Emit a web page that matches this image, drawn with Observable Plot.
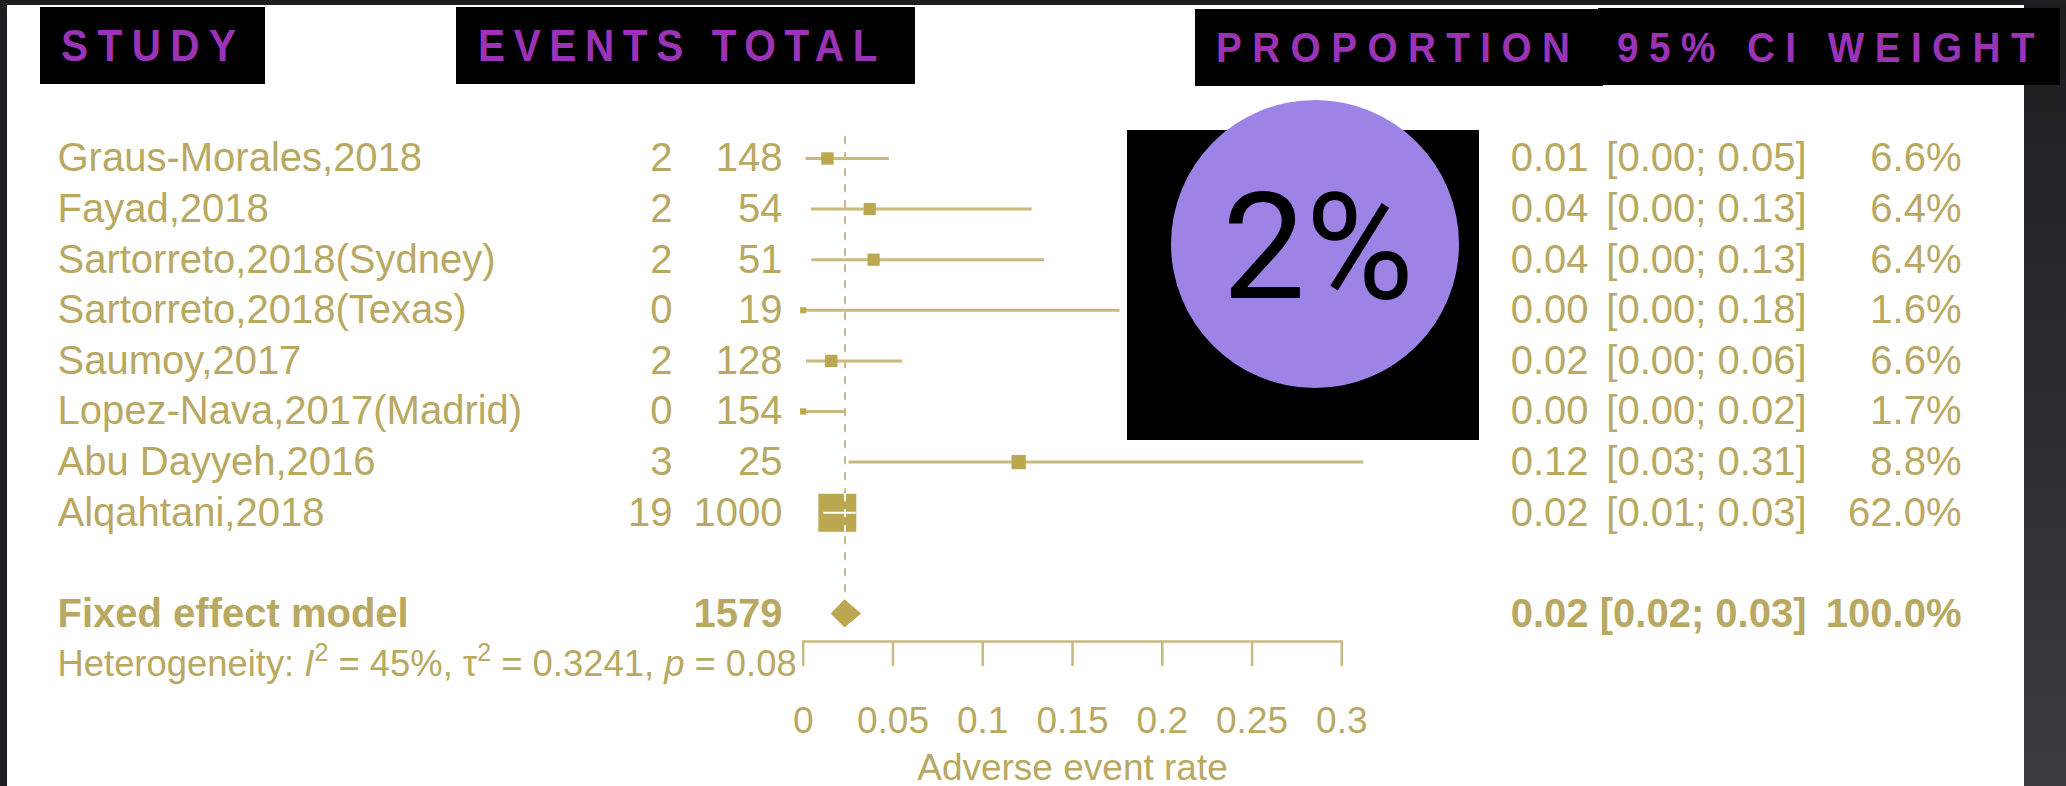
<!DOCTYPE html>
<html>
<head>
<meta charset="utf-8">
<script src="https://cdn.jsdelivr.net/npm/d3@7"></script>
<script src="https://cdn.jsdelivr.net/npm/@observablehq/plot@0.6"></script>
<style>
  html, body { margin: 0; padding: 0; }
  body { width: 2066px; height: 786px; overflow: hidden; background: #1e1d22; position: relative;
         font-family: "Liberation Sans", Arial, Helvetica, sans-serif; }
  #panel { position: absolute; left: 7px; top: 5px; width: 2017px; height: 781px; background: #ffffff; }
  #edge { position: absolute; left: 2024px; top: 5px; width: 42px; height: 781px;
          background: linear-gradient(#1d1c21, #3c3b41); }
  #chart { position: absolute; left: 0; top: 0; }
  #overlay { position: absolute; left: 0; top: 0; }
</style>
</head>
<body>
<div id="panel"></div>
<div id="edge"></div>
<div id="chart"></div>
<svg id="overlay" width="2066" height="786"></svg>
<script>
// ---- Study-level data (proportion of adverse events) ----
const studies = [
  "Graus-Morales,2018",
  "Fayad,2018",
  "Sartorreto,2018(Sydney)",
  "Sartorreto,2018(Texas)",
  "Saumoy,2017",
  "Lopez-Nava,2017(Madrid)",
  "Abu Dayyeh,2016",
  "Alqahtani,2018"
];
const events  = [2, 2, 2, 0, 2, 0, 3, 19];
const totals  = [148, 54, 51, 19, 128, 154, 25, 1000];
const ciLower = [0.0016, 0.0045, 0.0048, 0.0, 0.0019, 0.0, 0.0255, 0.0115];
const ciUpper = [0.0480, 0.1275, 0.1346, 0.1765, 0.0553, 0.0237, 0.3122, 0.0295];
const weights = [6.6, 6.4, 6.4, 1.6, 6.6, 1.7, 8.8, 62.0];

// ---- Pooled (fixed effect) result ----
const pooledLabel = "Fixed effect model";
const pooledTotal = 1579;
const pooledEstimate = 0.0233;
const pooledLower = 0.0156;
const pooledUpper = 0.0325;
const pooledWeight = 100.0;

// ---- Heterogeneity statistics ----
const hetI2 = 45;
const hetTau2 = 0.3241;
const hetP = 0.08;

// ---- Axis ----
const xTicks = [0, 0.05, 0.1, 0.15, 0.2, 0.25, 0.3];
const xLabel = "Adverse event rate";

// ---- Column headers ----
const headerLabels = ["STUDY", "EVENTS TOTAL", "PROPORTION", "95% CI WEIGHT"];

// ---- Layout ----
const W = 2066, H = 786;
const X0 = 802.7, X1 = 1341.3;           // pixel extent of the rate axis
const colX = {study: 57, events: 672, total: 782, prop: 1588, ci: 1806, weight: 1961};
const rowTop = 158, rowStep = 50.6;
const rMax = 21.4;
const fontRow = 40;
const gold = "#b8a862";
const squareGold = "#bba74f";
const lineGold = "#c8b97f";
const f2 = d3.format(".2f");
const fw = d => d3.format(".1f")(d) + "%";

const rows = studies.map((study, i) => ({
  i, study,
  events: events[i],
  total: totals[i],
  est: events[i] / totals[i],
  lower: ciLower[i],
  upper: ciUpper[i],
  weight: weights[i]
}));

// square geometry (pixels) used to decide which segments show through a square
const pxPerUnit = (X1 - X0) / 0.3;
const sidePx = d => rMax * Math.sqrt(d.weight / d3.max(weights)) * Math.sqrt(Math.PI);
const ciInside = rows.filter(d => (d.upper - d.lower) * pxPerUnit < sidePx(d));
const coversPooled = rows.filter(d => Math.abs(d.est - pooledEstimate) * pxPerUnit < sidePx(d) / 2);

const pooledRow = 9;
const pooled = [{
  y: pooledRow, label: pooledLabel, total: pooledTotal,
  est: pooledEstimate, lower: pooledLower, upper: pooledUpper, weight: pooledWeight
}];
const diamondHalf = 0.28;
const diamond = [
  {x: pooledLower, y1: pooledRow, y2: pooledRow},
  {x: pooledEstimate, y1: pooledRow - diamondHalf, y2: pooledRow + diamondHalf},
  {x: pooledUpper, y1: pooledRow, y2: pooledRow}
];

const textCol = (data, opts) => Plot.text(data, {
  frameAnchor: "left", fill: gold, fontSize: fontRow, ...opts
});

const chart = Plot.plot({
  width: W, height: H,
  marginLeft: X0, marginRight: W - X1, marginTop: 100, marginBottom: 145,
  x: {domain: [0, 0.3]},
  y: {domain: [0, 10], range: [rowTop, rowTop + 10 * rowStep], axis: null},
  r: {type: "sqrt", domain: [0, d3.max(weights)], range: [0, rMax]},
  style: {background: "transparent", fontFamily: "'Liberation Sans', Arial, Helvetica, sans-serif", overflow: "visible"},
  marks: [
    // pooled-estimate reference line
    Plot.ruleX([pooledEstimate], {x: d => d, y1: -0.43, y2: pooledRow - diamondHalf,
      stroke: lineGold, strokeWidth: 2, strokeDasharray: "8,8"}),
    // confidence intervals
    Plot.ruleY(rows, {y: "i", x1: "lower", x2: "upper", stroke: lineGold, strokeWidth: 3}),
    // study estimates, area proportional to weight
    Plot.dot(rows, {x: "est", y: "i", r: "weight", symbol: "square", fill: squareGold, stroke: null}),
    // segments visible through large squares
    Plot.ruleY(ciInside, {y: "i", x1: "lower", x2: "upper", stroke: "white", strokeWidth: 2}),
    Plot.ruleX(coversPooled, {x: () => pooledEstimate,
      y1: d => d.i - sidePx(d) / 2 / rowStep, y2: d => d.i + sidePx(d) / 2 / rowStep,
      stroke: "white", strokeWidth: 2, strokeDasharray: "8,8"}),
    // pooled diamond
    Plot.areaY(diamond, {x: "x", y1: "y1", y2: "y2", fill: squareGold, curve: "linear"}),
    // axis
    Plot.frame({anchor: "bottom", stroke: lineGold, strokeWidth: 2.5}),
    Plot.axisX({ticks: xTicks, tickFormat: d => String(d), tickSize: 25, tickPadding: 40,
      fontSize: 37, stroke: lineGold, strokeWidth: 2.5, fill: gold, color: gold,
      label: xLabel, labelAnchor: "center", labelOffset: 138, labelArrow: "none"}),
    // table columns
    textCol(rows, {y: "i", text: "study", textAnchor: "start", dx: colX.study - X0}),
    textCol(rows, {y: "i", text: d => String(d.events), textAnchor: "end", dx: colX.events - X0}),
    textCol(rows, {y: "i", text: d => String(d.total), textAnchor: "end", dx: colX.total - X0}),
    textCol(rows, {y: "i", text: d => f2(d.est), textAnchor: "end", dx: colX.prop - X0}),
    textCol(rows, {y: "i", text: d => `[${f2(d.lower)}; ${f2(d.upper)}]`, textAnchor: "end", dx: colX.ci - X0}),
    textCol(rows, {y: "i", text: d => fw(d.weight), textAnchor: "end", dx: colX.weight - X0}),
    // pooled row (bold)
    textCol(pooled, {y: "y", text: "label", textAnchor: "start", fontWeight: "bold", dx: colX.study - X0}),
    textCol(pooled, {y: "y", text: d => String(d.total), textAnchor: "end", fontWeight: "bold", dx: colX.total - X0}),
    textCol(pooled, {y: "y", text: d => f2(d.est), textAnchor: "end", fontWeight: "bold", dx: colX.prop - X0}),
    textCol(pooled, {y: "y", text: d => `[${f2(d.lower)}; ${f2(d.upper)}]`, textAnchor: "end", fontWeight: "bold", dx: colX.ci - X0}),
    textCol(pooled, {y: "y", text: d => fw(d.weight), textAnchor: "end", fontWeight: "bold", dx: colX.weight - X0}),
    // heterogeneity line
    textCol([{y: pooledRow + 1}], {y: "y", text: () => `Heterogeneity: I2 = ${hetI2}%, τ2 = ${hetTau2}, p = ${hetP}`,
      textAnchor: "start", fontSize: 36.4, dx: colX.study - X0})
  ]
});
document.getElementById("chart").appendChild(chart);

// rich formatting for the heterogeneity statement (italic symbols, superscripts)
const het = d3.select(chart).selectAll("text")
  .filter(function () { return this.textContent.startsWith("Heterogeneity"); });
het.text(null);
const hetParts = [
  ["Heterogeneity: ", ""], ["I", "it"], ["2", "sup"], [` = ${hetI2}%, τ`, ""], ["2", "sup"],
  [` = ${hetTau2}, `, ""], ["p", "it"], [` = ${hetP}`, ""]
];
let raised = false;
for (const [t, kind] of hetParts) {
  const ts = het.append("tspan").text(t);
  if (kind === "it") ts.attr("font-style", "italic");
  if (kind === "sup") { ts.attr("font-size", 25).attr("dy", -15); raised = true; }
  else if (raised) { ts.attr("dy", 15); raised = false; }
}

// ---- Header bars and highlight badge ----
const overlay = d3.select("#overlay");
const headerBoxes = [
  {x: 40, y: 7, w: 225, h: 77, tx: 61, base: 61, size: 45, spacing: 10.5},
  {x: 456, y: 7, w: 459, h: 77, tx: 478, base: 61, size: 45, spacing: 9.6},
  {x: 1195, y: 9, w: 408, h: 77, tx: 1216, base: 62, size: 43, spacing: 11.6},
  {x: 1598, y: 8, w: 462, h: 77, tx: 1617, base: 62, size: 43, spacing: 11.6}
];
headerLabels.forEach((label, k) => {
  const b = headerBoxes[k];
  overlay.append("rect").attr("x", b.x).attr("y", b.y).attr("width", b.w).attr("height", b.h).attr("fill", "#000");
  overlay.append("text")
    .attr("transform", `translate(${b.tx},${b.base}) scale(0.9,1)`)
    .attr("font-family", "'Liberation Sans', Arial, sans-serif")
    .attr("font-weight", "bold")
    .attr("font-size", b.size)
    .attr("letter-spacing", b.spacing)
    .attr("fill", "#9a33b5")
    .text(label);
});

overlay.append("rect").attr("x", 1127).attr("y", 130).attr("width", 352).attr("height", 310).attr("fill", "#000");
overlay.append("circle").attr("cx", 1315).attr("cy", 244).attr("r", 144).attr("fill", "#9e83e6");
overlay.append("text")
  .attr("x", 1318).attr("y", 298)
  .attr("text-anchor", "middle")
  .attr("font-family", "Roboto, 'Liberation Sans', sans-serif")
  .attr("font-size", 148)
  .attr("fill", "#000")
  .text(d3.format(".0%")(pooledEstimate));
</script>
</body>
</html>
